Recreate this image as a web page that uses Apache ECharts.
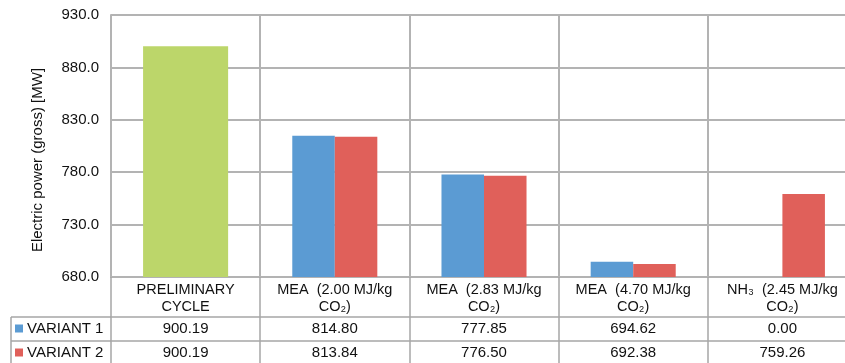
<!DOCTYPE html>
<html>
<head>
<meta charset="utf-8">
<style>
  html, body { margin: 0; padding: 0; background: #fff; }
  #chart { width: 845px; height: 363px; }
</style>
<script src="https://cdn.jsdelivr.net/npm/echarts@6/dist/echarts.min.js"></script>
</head>
<body>
<div id="chart"></div>
<script>
// Gross electric power of each plant configuration
const categories = [
  'PRELIMINARY\nCYCLE',
  'MEA  (2.00 MJ/kg\nCO\u2082)',
  'MEA  (2.83 MJ/kg\nCO\u2082)',
  'MEA  (4.70 MJ/kg\nCO\u2082)',
  'NH\u2083  (2.45 MJ/kg\nCO\u2082)'
];
const seriesNames = ['VARIANT 1', 'VARIANT 2'];
const variant1 = [900.19, 814.80, 777.85, 694.62, 0.00];
const variant2 = [900.19, 813.84, 776.50, 692.38, 759.26];
const yTicks = [680, 730, 780, 830, 880, 930];

const FONT = "'Liberation Sans', Arial, sans-serif";
const BLUE = '#5B9BD3';
const RED = '#E0605A';
const GREEN = '#BCD66A';
const GRID_COLOR = '#b3b3b3';
const TABLE_COLOR = '#a6a6a6';

// the last column runs past the right edge of the canvas
const GRID_LEFT = 111, GRID_TOP = 15, GRID_BOTTOM = 86, GRID_WIDTH = 746;
const H = 363;
const axisY = H - GRID_BOTTOM;      // baseline of the plot
const ROW1 = axisY + 40;            // top of the VARIANT 1 row
const ROW2 = ROW1 + 24;             // top of the VARIANT 2 row
const TABLE_LEFT = 11;
const CAT_GAP = '43%';

// The preliminary cycle is the same for both variants: it is drawn once,
// as a single green block, and the variant bars start at the capture cases.
const variantBars = values => values.map((v, i) => i === 0 ? '-' : v);
const preliminaryBar = variant1.map((v, i) => i === 0 ? v : '-');
const fmt2 = v => v.toFixed(2);

const chart = echarts.init(document.getElementById('chart'), null, { renderer: 'canvas' });

function rowLegend(name, row) {
  return {
    orient: 'vertical',
    left: 15,
    top: row + 4,
    padding: 0,
    itemWidth: 8,
    itemHeight: 8,
    itemGap: 0,
    icon: 'rect',
    selectedMode: false,
    data: [name],
    textStyle: { fontFamily: FONT, fontSize: 15, color: '#111', padding: [0, 0, 0, -1] }
  };
}

const tableAxis = (values, row) => ({
  type: 'category',
  data: values.map(fmt2),
  position: 'bottom',
  offset: row - axisY,
  axisLine: { show: true, lineStyle: { color: TABLE_COLOR, width: 1.5 } },
  axisTick: { show: false },
  axisLabel: { interval: 0, margin: 4, fontFamily: FONT, fontSize: 15, color: '#111' }
});

chart.setOption({
  animation: false,
  backgroundColor: '#fff',
  textStyle: { fontFamily: FONT },
  grid: {
    left: GRID_LEFT, width: GRID_WIDTH, top: GRID_TOP, bottom: GRID_BOTTOM,
    containLabel: false, outerBoundsMode: 'none'
  },
  legend: [rowLegend(seriesNames[0], ROW1), rowLegend(seriesNames[1], ROW2)],
  xAxis: [
    {
      type: 'category',
      data: categories,
      boundaryGap: true,
      axisLine: { show: true, lineStyle: { color: GRID_COLOR, width: 2 } },
      axisTick: { show: true, interval: 0, length: H - axisY + 4, lineStyle: { color: TABLE_COLOR, width: 1.5 } },
      splitLine: { show: true, interval: 0, lineStyle: { color: GRID_COLOR, width: 2 } },
      axisLabel: { interval: 0, margin: 4, fontFamily: FONT, fontSize: 14.5, lineHeight: 17, color: '#111' }
    },
    tableAxis(variant1, ROW1),
    tableAxis(variant2, ROW2),
    // hidden axis carrying the single-block preliminary bar
    { type: 'category', data: categories, show: false }
  ],
  yAxis: {
    type: 'value',
    min: yTicks[0],
    max: yTicks[yTicks.length - 1],
    interval: yTicks[1] - yTicks[0],
    name: 'Electric power (gross) [MW]',
    nameLocation: 'middle',
    nameGap: 66,
    nameTextStyle: { fontFamily: FONT, fontSize: 15, color: '#111', padding: [0, 28, 0, 0] },
    axisLine: { show: true, lineStyle: { color: GRID_COLOR, width: 2 } },
    axisTick: { show: false },
    splitLine: { show: true, lineStyle: { color: GRID_COLOR, width: 2 } },
    axisLabel: { margin: 12, fontFamily: FONT, fontSize: 15, color: '#111', formatter: v => v.toFixed(1) }
  },
  series: [
    {
      name: seriesNames[0],
      type: 'bar',
      xAxisIndex: 0,
      data: variantBars(variant1),
      itemStyle: { color: BLUE },
      barGap: '0%',
      barCategoryGap: CAT_GAP
    },
    {
      name: seriesNames[1],
      type: 'bar',
      xAxisIndex: 0,
      data: variantBars(variant2),
      itemStyle: { color: RED },
      barGap: '0%',
      barCategoryGap: CAT_GAP
    },
    {
      name: 'PRELIMINARY CYCLE',
      type: 'bar',
      xAxisIndex: 3,
      data: preliminaryBar,
      itemStyle: { color: GREEN },
      barCategoryGap: CAT_GAP
    }
  ],
  graphic: [
    // left header column of the data table
    { type: 'line', silent: true, shape: { x1: TABLE_LEFT, y1: ROW1, x2: GRID_LEFT, y2: ROW1 }, style: { stroke: TABLE_COLOR, lineWidth: 1.5 } },
    { type: 'line', silent: true, shape: { x1: TABLE_LEFT, y1: ROW2, x2: GRID_LEFT, y2: ROW2 }, style: { stroke: TABLE_COLOR, lineWidth: 1.5 } },
    { type: 'line', silent: true, shape: { x1: TABLE_LEFT, y1: ROW1, x2: TABLE_LEFT, y2: H + 4 }, style: { stroke: TABLE_COLOR, lineWidth: 1.5 } }
  ]
});
</script>
</body>
</html>
